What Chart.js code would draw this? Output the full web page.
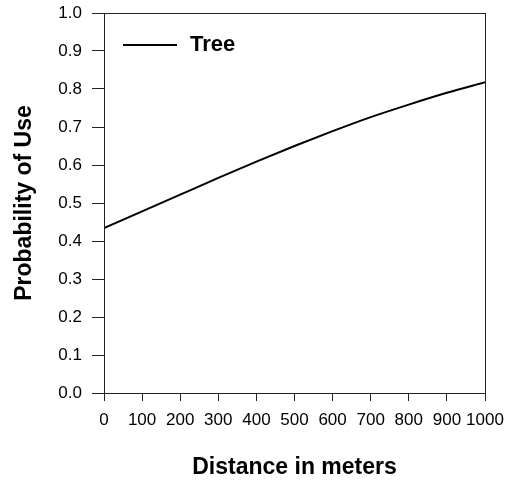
<!DOCTYPE html>
<html>
<head>
<meta charset="utf-8">
<script src="https://cdn.jsdelivr.net/npm/chart.js@4.4.0/dist/chart.umd.min.js"></script>
<style>
  html, body { margin: 0; padding: 0; background: #fff; }
  #wrap { width: 513px; height: 483px; }
</style>
</head>
<body>
<div id="wrap"><canvas id="chart" width="513" height="483"></canvas></div>
<script>
// Data
const distances = [0, 100, 200, 300, 400, 500, 600, 700, 800, 900, 1000];
const treeProb = [0.434, 0.478, 0.522, 0.566, 0.609, 0.650, 0.689, 0.726, 0.759, 0.790, 0.818];
const seriesLabel = 'Tree';
const xTitle = 'Distance in meters';
const yTitle = 'Probability of Use';

const FONT = '"Liberation Sans", Arial, sans-serif';
const AXIS = '#222';

// box around the plot + legend drawn top-left inside it
const framePlugin = {
    id: 'frame',
    afterDraw(chart) {
        const ctx = chart.ctx;
        const a = chart.chartArea;
        ctx.save();
        ctx.strokeStyle = AXIS;
        ctx.lineWidth = 1;
        ctx.strokeRect(a.left + 0.5, a.top + 0.5, a.right - a.left, a.bottom - a.top);

        // legend
        const ds = chart.data.datasets[0];
        const y = a.top + 32;
        ctx.strokeStyle = ds.borderColor;
        ctx.lineWidth = 2;
        ctx.beginPath();
        ctx.moveTo(a.left + 19, y);
        ctx.lineTo(a.left + 73, y);
        ctx.stroke();
        ctx.fillStyle = '#000';
        ctx.font = 'bold 22px ' + FONT;
        ctx.textBaseline = 'middle';
        ctx.textAlign = 'left';
        ctx.fillText(ds.label, a.left + 86, y);
        ctx.restore();
    }
};

new Chart(document.getElementById('chart').getContext('2d'), {
    type: 'line',
    data: {
        labels: distances,
        datasets: [{
            label: seriesLabel,
            data: distances.map((d, i) => ({ x: d, y: treeProb[i] })),
            borderColor: '#000',
            borderWidth: 2,
            pointRadius: 0,
            fill: false,
            cubicInterpolationMode: 'monotone'
        }]
    },
    options: {
        responsive: false,
        animation: false,
        layout: { padding: { left: 0, top: 13, right: 28, bottom: 0 } },
        plugins: {
            legend: { display: false },
            tooltip: { enabled: false }
        },
        scales: {
            x: {
                type: 'linear',
                min: 0,
                max: 1000,
                afterFit: scale => {
                    scale.height = 90;
                    scale.paddingLeft = 0;
                    scale.paddingRight = 0;
                },
                ticks: {
                    stepSize: 100,
                    padding: 9,
                    color: '#000',
                    font: { family: FONT, size: 17 },
                    maxRotation: 0,
                    autoSkip: false,
                    callback: v => String(v)
                },
                grid: { drawOnChartArea: false, tickLength: 8, color: AXIS },
                border: { color: AXIS },
                title: {
                    display: true,
                    text: xTitle,
                    color: '#000',
                    font: { family: FONT, size: 23, weight: 'bold' },
                    padding: { bottom: 2 }
                }
            },
            y: {
                min: 0,
                max: 1,
                afterFit: scale => {
                    scale.width = 104;
                    scale.paddingTop = 0;
                    scale.paddingBottom = 0;
                },
                ticks: {
                    stepSize: 0.1,
                    padding: 10,
                    color: '#000',
                    font: { family: FONT, size: 17 },
                    callback: v => v.toFixed(1)
                },
                grid: { drawOnChartArea: false, tickLength: 12, color: AXIS },
                border: { color: AXIS },
                title: {
                    display: true,
                    text: yTitle,
                    color: '#000',
                    font: { family: FONT, size: 23, weight: 'bold' },
                    padding: { top: 11 }
                }
            }
        }
    },
    plugins: [framePlugin]
});
</script>
</body>
</html>
